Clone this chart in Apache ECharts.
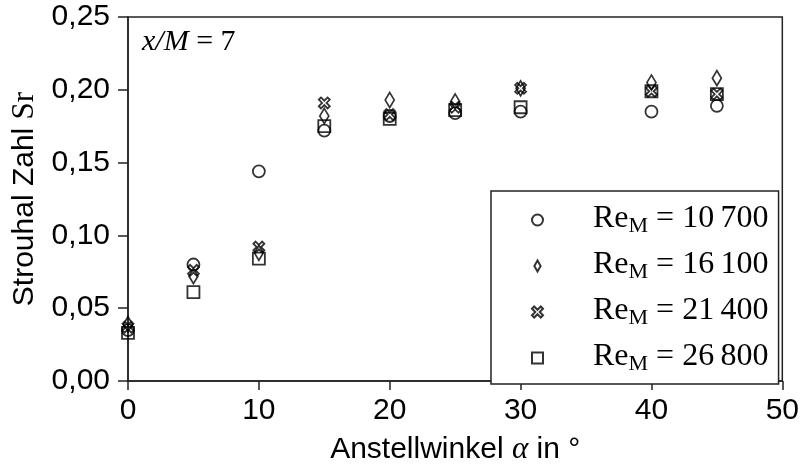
<!DOCTYPE html>
<html>
<head>
<meta charset="utf-8">
<script src="https://cdn.jsdelivr.net/npm/echarts@6/dist/echarts.min.js"></script>
<style>html,body{margin:0;padding:0;background:#fff}#c{width:802px;height:470px}</style>
</head>
<body>
<div id="c"></div>
<script>
// Data
const angles = [0, 5, 10, 15, 20, 25, 30, 40, 45];
const re10700 = [0.035, 0.080, 0.144, 0.172, 0.182, 0.184, 0.185, 0.185, 0.189];
const re16100 = [0.039, 0.072, 0.088, 0.182, 0.193, 0.192, 0.201, 0.205, 0.208];
const re21400 = [0.037, 0.076, 0.092, 0.191, 0.183, 0.188, 0.201, 0.199, 0.197];
const re26800 = [0.033, 0.061, 0.084, 0.175, 0.180, 0.186, 0.188, 0.199, 0.197];
const seriesNames = ['10700', '16100', '21400', '26800'];
const legendLabels = ['10\u2009700', '16\u2009100', '21\u2009400', '26\u2009800'];
const xTicks = [0, 10, 20, 30, 40, 50];
const yTicks = [0, 0.05, 0.10, 0.15, 0.20, 0.25];

const SANS = 'Liberation Sans, Arial, sans-serif';
const SERIF = 'Liberation Serif, Times New Roman, serif';

const symDiamond = 'path://M4,0L8,7L4,14L0,7Z';
const symCross = 'path://M2,0L5,3L8,0L10,2L7,5L10,8L8,10L5,7L2,10L0,8L3,5L0,2Z';
const symSquare = 'path://M0,0L10,0L10,10L0,10Z';
const symCircle = 'circle';

function pts(vals) { return angles.map((a, i) => [a, vals[i]]); }

const markerStyle = { color: 'rgba(0,0,0,0)', borderColor: '#000', borderWidth: 1.8 };

const chart = echarts.init(document.getElementById('c'), null, { renderer: 'canvas' });
chart.setOption({
  animation: false,
  backgroundColor: '#fff',
  grid: { left: 128, right: 18, top: 17, bottom: 87, show: true, borderColor: '#222', borderWidth: 1.5, backgroundColor: 'transparent' },
  xAxis: {
    type: 'value', min: 0, max: 50, interval: 10,
    axisLine: { show: true, lineStyle: { color: '#222', width: 1.5 } },
    axisTick: { show: true, length: 9, lineStyle: { color: '#222', width: 1.5 } },
    splitLine: { show: false },
    axisLabel: { margin: 15, color: '#000', fontFamily: SANS, fontSize: 30,
      formatter: v => xTicks.indexOf(v) >= 0 ? String(v) : '' },
    name: '{a|Anstellwinkel }{b|α}{a| in °}',
    nameLocation: 'middle', nameGap: 53,
    nameTextStyle: { rich: {
      a: { fontFamily: SANS, fontSize: 30, color: '#000' },
      b: { fontFamily: SERIF, fontStyle: 'italic', fontSize: 31, color: '#000' }
    } }
  },
  yAxis: {
    type: 'value', min: 0, max: 0.25, interval: 0.05,
    axisLine: { show: true, lineStyle: { color: '#222', width: 1.5 } },
    axisTick: { show: true, length: 10, lineStyle: { color: '#222', width: 1.5 } },
    splitLine: { show: false },
    axisLabel: { margin: 18, color: '#000', fontFamily: SANS, fontSize: 30,
      formatter: v => v.toFixed(2).replace('.', ',') },
    name: '{a|Strouhal Zahl }{b|Sr}',
    nameLocation: 'middle', nameGap: 82,
    nameTextStyle: { rich: {
      a: { fontFamily: SANS, fontSize: 30, color: '#000' },
      b: { fontFamily: SERIF, fontSize: 31, color: '#000' }
    } }
  },
  legend: {
    orient: 'vertical', left: 491, top: 191,
    padding: [12, 10, 9, 40],
    itemGap: 12, itemWidth: 11, itemHeight: 11,
    borderColor: '#222', borderWidth: 1.5, backgroundColor: '#fff',
    selectedMode: false,
    data: [
      { name: seriesNames[0], icon: 'path://M5,0A5,5 0 1,1 5,10A5,5 0 1,1 5,0Z' },
      { name: seriesNames[1], icon: symDiamond },
      { name: seriesNames[2], icon: symCross },
      { name: seriesNames[3], icon: symSquare }
    ],
    formatter: name => '{g|}{a|Re}{s|M}{a| = ' + legendLabels[seriesNames.indexOf(name)] + '}',
    textStyle: { rich: {
      g: { width: 45, lineHeight: 34 },
      a: { fontFamily: SERIF, fontSize: 32, color: '#000', lineHeight: 28, verticalAlign: 'top' },
      s: { fontFamily: SERIF, fontSize: 22, color: '#000', lineHeight: 21, verticalAlign: 'bottom' }
    } }
  },
  graphic: [{
    type: 'text', left: 142, top: 27, z: 10,
    style: {
      text: '{i|x/M}{u|\u2005=\u20057}',
      rich: {
        i: { fontFamily: SERIF, fontStyle: 'italic', fontSize: 30, fill: '#000' },
        u: { fontFamily: SERIF, fontSize: 30, fill: '#000' }
      }
    }
  }],
  series: [
    { name: seriesNames[0], type: 'scatter', data: pts(re10700), symbol: symCircle, symbolSize: 12, itemStyle: markerStyle, z: 3 },
    { name: seriesNames[1], type: 'scatter', data: pts(re16100), symbol: symDiamond, symbolSize: [9, 15], itemStyle: markerStyle, z: 3 },
    { name: seriesNames[2], type: 'scatter', data: pts(re21400), symbol: symCross, symbolSize: 11, itemStyle: markerStyle, z: 3 },
    { name: seriesNames[3], type: 'scatter', data: pts(re26800), symbol: symSquare, symbolSize: 12, itemStyle: markerStyle, z: 3 }
  ]
});
</script>
</body>
</html>
